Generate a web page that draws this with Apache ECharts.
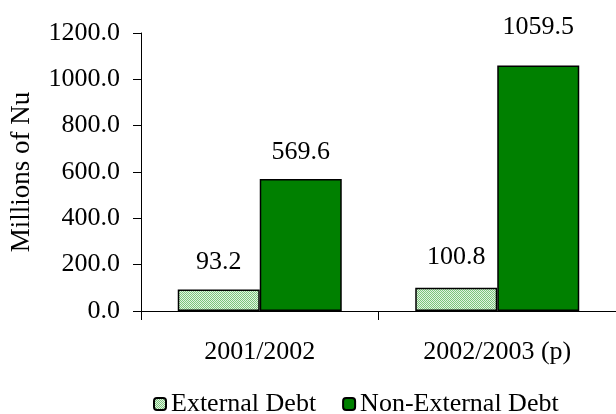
<!DOCTYPE html>
<html>
<head>
<meta charset="utf-8">
<script src="https://cdn.jsdelivr.net/npm/echarts@6/dist/echarts.min.js"></script>
<style>
  html, body { margin: 0; padding: 0; background: #fff; }
  #chart { width: 616px; height: 414px; }
</style>
</head>
<body>
<div id="chart"></div>
<script>
const categories = ['2001/2002', '2002/2003 (p)'];
const externalDebt = [93.2, 100.8];
const nonExternalDebt = [569.6, 1059.5];
const seriesNames = ['External Debt', 'Non-External Debt'];

// gap (px) between each bar top and its value label
const externalLabelGap = [14, 17];
const nonExternalLabelGap = [14, 25];

// small dotted fill for the external debt bars
function dotPattern() {
  const c = document.createElement('canvas');
  c.width = 2; c.height = 2;
  const g = c.getContext('2d');
  g.fillStyle = '#e2f3e2';
  g.fillRect(0, 0, 2, 2);
  g.fillStyle = '#7cc47c';
  g.fillRect(0, 0, 1, 1);
  g.fillRect(1, 1, 1, 1);
  return c;
}

const FONT = 'Liberation Serif';
const SIZE = 26;

function withLabels(values, gaps) {
  return values.map((v, i) => ({ value: v, label: { distance: gaps[i] } }));
}

const valueLabel = {
  show: true, position: 'top',
  fontFamily: FONT, fontSize: SIZE, color: '#000',
  formatter: p => p.value.toFixed(1)
};

const chart = echarts.init(document.getElementById('chart'), null, { renderer: 'canvas' });

chart.setOption({
  animation: false,
  textStyle: { fontFamily: FONT, color: '#000' },
  grid: { left: 141, top: 33, right: 0, bottom: 103 },
  legend: {
    left: 148,
    top: 386,
    itemWidth: 12,
    itemHeight: 12,
    itemGap: 26,
    textStyle: { fontFamily: FONT, fontSize: SIZE, color: '#000' },
    data: seriesNames
  },
  xAxis: {
    type: 'category',
    data: categories,
    axisLine: { lineStyle: { color: '#000', width: 1 } },
    axisTick: { show: true, length: 9, lineStyle: { color: '#000' } },
    axisLabel: { fontFamily: FONT, fontSize: SIZE, color: '#000', margin: 28 }
  },
  yAxis: {
    type: 'value',
    min: 0,
    max: 1200,
    interval: 200,
    name: 'Millions of Nu',
    nameLocation: 'middle',
    nameGap: 106,
    nameRotate: 90,
    nameTextStyle: { fontFamily: FONT, fontSize: 27, color: '#000' },
    splitLine: { show: false },
    axisLine: { show: true, lineStyle: { color: '#000', width: 1 } },
    axisTick: { show: true, length: 8, lineStyle: { color: '#000' } },
    axisLabel: {
      fontFamily: FONT, fontSize: SIZE, color: '#000', margin: 21,
      formatter: v => v.toFixed(1)
    }
  },
  series: [
    {
      name: seriesNames[0],
      type: 'bar',
      data: withLabels(externalDebt, externalLabelGap),
      barWidth: 82,
      barGap: '0%',
      itemStyle: {
        color: { image: dotPattern(), repeat: 'repeat' },
        borderColor: '#000',
        borderWidth: 1.5
      },
      label: valueLabel
    },
    {
      name: seriesNames[1],
      type: 'bar',
      data: withLabels(nonExternalDebt, nonExternalLabelGap),
      barWidth: 82,
      barGap: '0%',
      itemStyle: { color: '#008000', borderColor: '#000', borderWidth: 1.5 },
      label: valueLabel
    }
  ]
});
</script>
</body>
</html>
